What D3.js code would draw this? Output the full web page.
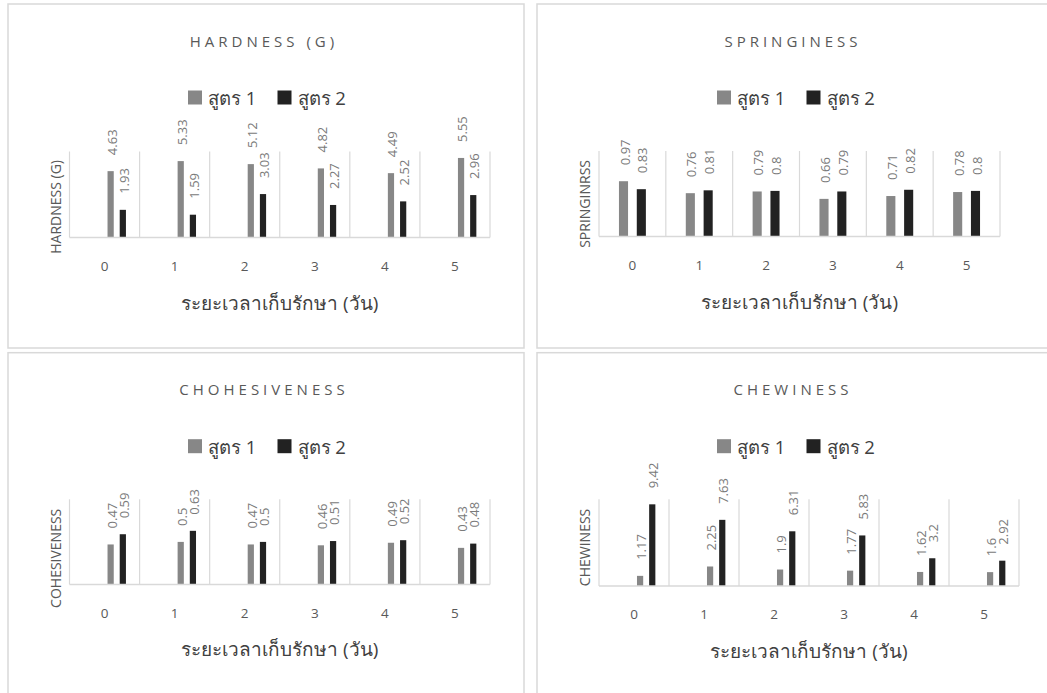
<!DOCTYPE html>
<html>
<head>
<meta charset="utf-8">
<script src="https://cdn.jsdelivr.net/npm/d3@7"></script>
<style>
  body { margin: 0; background: #ffffff; }
  svg { display: block; font-family: "Open Sans", "Noto Sans", "DejaVu Sans", sans-serif; }
</style>
</head>
<body>
<svg id="chart" width="1047" height="693"></svg>
<script>
// Storage days (categories) and the two formulations
const days = ["0", "1", "2", "3", "4", "5"];
const seriesNames = ["สูตร 1", "สูตร 2"];
const xAxisTitle = "ระยะเวลาเก็บรักษา (วัน)";

// Texture profile values per day
const hardness1 = [4.63, 5.33, 5.12, 4.82, 4.49, 5.55];
const hardness2 = [1.93, 1.59, 3.03, 2.27, 2.52, 2.96];
const springiness1 = [0.97, 0.76, 0.79, 0.66, 0.71, 0.78];
const springiness2 = [0.83, 0.81, 0.80, 0.79, 0.82, 0.80];
const cohesiveness1 = [0.47, 0.50, 0.47, 0.46, 0.49, 0.43];
const cohesiveness2 = [0.59, 0.63, 0.50, 0.51, 0.52, 0.48];
const chewiness1 = [1.17, 2.25, 1.90, 1.77, 1.62, 1.60];
const chewiness2 = [9.42, 7.63, 6.31, 5.83, 3.20, 2.92];

const seriesColors = ["#878787", "#222222"];
const textColor = "#595959";
const labelColor = "#7a7a7a";
const lineColor = "#d9d9d9";

const panels = [
  { title: "HARDNESS (G)", yTitle: "HARDNESS (G)", values: [hardness1, hardness2], yMax: 6,
    ox: 8, oy: 4, plot: { x0: 61.5, x1: 482, y0: 147.5, y1: 233.5 }, slots: 4 },
  { title: "SPRINGINESS", yTitle: "SPRINGINRSS", values: [springiness1, springiness2], yMax: 1.5,
    ox: 537, oy: 4, plot: { x0: 62, x1: 463, y0: 147, y1: 232.5 }, slots: 2 },
  { title: "CHOHESIVENESS", yTitle: "COHESIVENESS", values: [cohesiveness1, cohesiveness2], yMax: 1,
    ox: 8, oy: 352.7, plot: { x0: 61.5, x1: 482, y0: 146.6, y1: 231.8 }, slots: 4 },
  { title: "CHEWINESS", yTitle: "CHEWINESS", values: [chewiness1, chewiness2], yMax: 10,
    ox: 537, oy: 352.7, plot: { x0: 62, x1: 482, y0: 146.6, y1: 233.3 }, slots: 4 }
];

const svg = d3.select("#chart");

panels.forEach(p => {
  const g = svg.append("g").attr("transform", `translate(${p.ox},${p.oy})`);

  // chart frame
  g.append("rect")
    .attr("x", 0).attr("y", 0).attr("width", 516).attr("height", 344)
    .attr("fill", "#ffffff").attr("stroke", lineColor).attr("stroke-width", 1.5);

  // title
  g.append("text")
    .attr("x", 254).attr("y", 42.7)
    .attr("text-anchor", "middle")
    .attr("dx", 2)
    .style("font-size", "15px")
    .style("letter-spacing", "4px")
    .attr("fill", textColor)
    .text(p.title);

  // legend
  const legend = g.append("g").attr("transform", "translate(180,86.5)");
  seriesNames.forEach((name, i) => {
    const item = legend.append("g").attr("transform", `translate(${i * 89.5},0)`);
    item.append("rect").attr("x", 0).attr("y", 0).attr("width", 14).attr("height", 14)
      .attr("fill", seriesColors[i]);
    item.append("text").attr("x", 20).attr("y", 14.5)
      .style("font-size", "18.5px").attr("fill", "#404040").text(name);
  });

  const x = d3.scaleBand().domain(days).range([p.plot.x0, p.plot.x1]).padding(0);
  const inner = d3.scaleBand().domain(d3.range(p.slots)).range([0, x.bandwidth()])
    .paddingInner(0.49).paddingOuter(1.12);
  const slotOf = i => p.slots - 2 + i;
  const y = d3.scaleLinear().domain([0, p.yMax]).range([p.plot.y1, p.plot.y0]);

  // vertical category separators
  const edges = days.map(d => x(d)).concat([p.plot.x1]);
  g.append("g").selectAll("line").data(edges).join("line")
    .attr("x1", d => d).attr("x2", d => d)
    .attr("y1", p.plot.y0).attr("y2", p.plot.y1)
    .attr("stroke", lineColor).attr("stroke-width", 1.2);

  // bars
  seriesNames.forEach((name, si) => {
    const vals = p.values[si];
    g.append("g").selectAll("rect").data(days).join("rect")
      .attr("x", (d, i) => x(d) + inner(slotOf(si)))
      .attr("y", (d, i) => y(vals[i]))
      .attr("width", inner.bandwidth())
      .attr("height", (d, i) => y(0) - y(vals[i]))
      .attr("fill", seriesColors[si]);
  });

  // category baseline
  g.append("line")
    .attr("x1", p.plot.x0).attr("x2", p.plot.x1)
    .attr("y1", p.plot.y1).attr("y2", p.plot.y1)
    .attr("stroke", lineColor).attr("stroke-width", 1.5);

  // rotated value labels
  seriesNames.forEach((name, si) => {
    const vals = p.values[si];
    g.append("g").selectAll("text").data(days).join("text")
      .attr("transform", (d, i) => {
        const cx = x(d) + inner(slotOf(si)) + inner.bandwidth() / 2 + 1.5;
        return `translate(${cx},${y(vals[i]) - 16}) rotate(-90)`;
      })
      .attr("dy", "0.35em")
      .attr("text-anchor", "start")
      .style("font-size", "13px")
      .attr("fill", labelColor)
      .text((d, i) => String(vals[i]));
  });

  // category axis labels
  const axis = g.append("g")
    .attr("transform", `translate(0,${p.plot.y1})`)
    .call(d3.axisBottom(x).tickSize(0).tickPadding(23.5));
  axis.select(".domain").remove();
  axis.selectAll("text")
    .style("font-size", "13.5px")
    .style("font-family", "\"Open Sans\", \"Noto Sans\", sans-serif")
    .attr("fill", textColor);

  // axis titles
  g.append("text")
    .attr("x", (p.plot.x0 + p.plot.x1) / 2).attr("y", p.plot.y1 + 72)
    .attr("text-anchor", "middle")
    .style("font-size", "19px")
    .attr("fill", "#404040")
    .text(xAxisTitle);

  g.append("text")
    .attr("transform", `translate(48,156) rotate(-90)`)
    .attr("text-anchor", "end")
    .attr("dy", "0.35em")
    .style("font-size", "14px")
    .attr("fill", textColor)
    .text(p.yTitle);
});
</script>
</body>
</html>
